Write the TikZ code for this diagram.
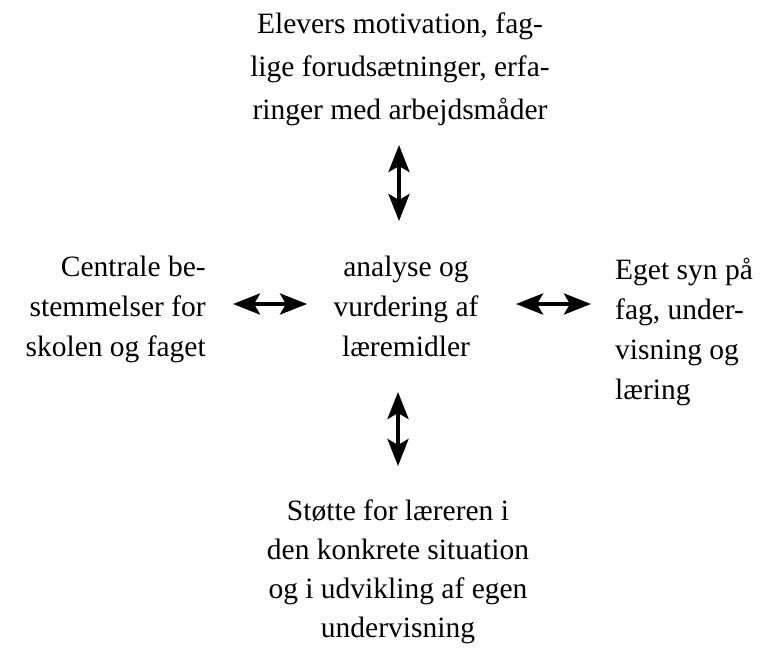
\documentclass[tikz,border=0pt]{standalone}
\usepackage{fontspec}
\setmainfont{Liberation Serif}
\usetikzlibrary{arrows.meta}
\newcommand\firstln{\rule{0pt}{28pt}}
\tikzset{
  blk/.style={inner sep=0pt, font=\fontsize{29.5}{40}\selectfont},
  blktop/.style={inner sep=0pt, font=\fontsize{29.5}{43}\selectfont},
  blkbot/.style={inner sep=0pt, font=\fontsize{29.5}{39}\selectfont},
  dbl/.style={line width=4.2pt, {Stealth[length=27pt,width=21pt,inset=6pt]}-{Stealth[length=27pt,width=21pt,inset=6pt]}}
}
\begin{document}
\begin{tikzpicture}[x=1pt,y=-1pt]
\useasboundingbox (0,0) rectangle (760,648);
\node[blktop, align=center, anchor=north] (top) at (400,5) {\firstln Elevers motivation, fag-\\lige forudsætninger, erfa-\\ringer med arbejdsmåder};
\node[blk, align=center, anchor=north] (mid) at (406,248) {\firstln analyse og\\vurdering af\\læremidler};
\node[blk, align=right, anchor=north east] (left) at (206,248) {\firstln Centrale be-\\stemmelser for\\skolen og faget};
\node[blk, align=left, anchor=north west] (right) at (615,251) {\firstln Eget syn på\\fag, under-\\visning og\\læring};
\node[blkbot, align=center, anchor=north] (bot) at (398,492) {\firstln Støtte for læreren i\\den konkrete situation\\og i udvikling af egen\\undervisning};
\coordinate (t1) at (399,145);
\coordinate (t2) at (399,221);
\coordinate (b1) at (398,392);
\coordinate (b2) at (398,466);
\coordinate (l1) at (233,304);
\coordinate (l2) at (307,304);
\coordinate (r1) at (516,304);
\coordinate (r2) at (591,304);
\draw[dbl] (t1) -- (t2);
\draw[dbl] (b1) -- (b2);
\draw[dbl] (l1) -- (l2);
\draw[dbl] (r1) -- (r2);
\end{tikzpicture}
\end{document}
